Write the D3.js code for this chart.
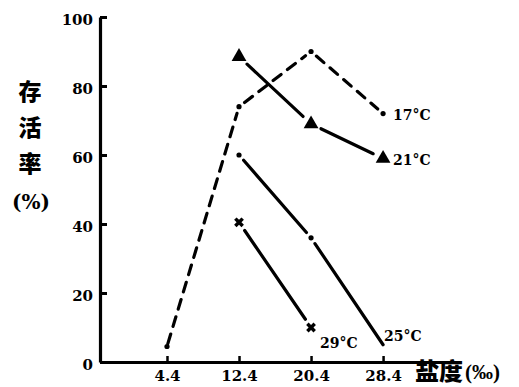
<!DOCTYPE html>
<html>
<head>
<meta charset="utf-8">
<script src="https://cdn.jsdelivr.net/npm/d3@7/dist/d3.min.js"></script>
<style>
  html, body { margin: 0; padding: 0; background: #fff; }
  svg { display: block; }
  .tick text { font-family: "DejaVu Serif", "Liberation Serif", serif; font-weight: bold; font-size: 15px; fill: #000; }
  .lbl { font-family: "DejaVu Serif", "Liberation Serif", serif; font-weight: bold; fill: #000; }
  .lbl2 { font-family: "Liberation Serif", serif; font-weight: bold; fill: #000; }
  .cjk { font-family: "Noto Sans CJK SC", sans-serif; font-weight: 900; fill: #000; }
</style>
</head>
<body>
<svg id="chart" width="519" height="387"></svg>
<script>
// Salinity (‰) at which survival was measured
const salinity = [4.4, 12.4, 20.4, 28.4];
const xTickLabels = ["4.4", "12.4", "20.4", "28.4"];
const yTicks = [0, 20, 40, 60, 80, 100];

// Survival rate (%) per temperature
const surv17 = [4.5, 74, 90, 72];
const surv21 = [null, 88.5, 69, 59];
const surv25 = [null, 60, 36, 5];
const surv29 = [null, 40.5, 10, null];

const series = [
  { name: "17°C", values: surv17, line: "dash", marker: "dot" },
  { name: "21°C", values: surv21, line: "solid", marker: "triangle" },
  { name: "25°C", values: surv25, line: "solid", marker: "dot" },
  { name: "29°C", values: surv29, line: "solid", marker: "cross" }
];

const svg = d3.select("#chart");

const x = d3.scaleLinear().domain([-3.04, 35.5]).range([100, 447]);
const y = d3.scaleLinear().domain([0, 100]).range([362, 17]);

// Y axis: ticks point inward
const yAxis = svg.append("g")
  .attr("transform", `translate(${x.range()[0]},0)`)
  .call(d3.axisLeft(y).tickValues(yTicks).tickSizeInner(-7).tickSizeOuter(0).tickPadding(7).tickFormat(d3.format("d")));
yAxis.select(".domain").attr("stroke", "#000").attr("stroke-width", 3.2);
yAxis.selectAll(".tick line").attr("stroke", "#000").attr("stroke-width", 3);
yAxis.selectAll(".tick text").attr("dy", "0.5em");

// X axis: ticks point upward
const xAxis = svg.append("g")
  .attr("transform", `translate(0,${y(0)})`)
  .call(d3.axisBottom(x).tickValues(salinity).tickSizeInner(-6).tickSizeOuter(0).tickPadding(8)
    .tickFormat((d, i) => xTickLabels[i]));
xAxis.select(".domain").attr("stroke", "#000").attr("stroke-width", 3);
xAxis.selectAll(".tick line").attr("stroke", "#000").attr("stroke-width", 2.5);

// Axis titles
const yTitle = ["存", "活", "率"];
svg.selectAll(".ytitle").data(yTitle).enter().append("text")
  .attr("class", "cjk").attr("x", 30).attr("y", (d, i) => 100 + i * 36)
  .attr("text-anchor", "middle").style("font-size", "23px").text(d => d);
svg.append("text").attr("class", "lbl").attr("x", 31).attr("y", 209)
  .attr("text-anchor", "middle").style("font-size", "20px").text("(%)");
svg.append("text").attr("class", "cjk").attr("x", 415).attr("y", 380)
  .style("font-size", "24px").text("盐度");
svg.append("text").attr("class", "lbl2").attr("x", 465).attr("y", 379)
  .style("font-size", "21px").text("(‰)");

// Points in pixel space
function pts(s) {
  return salinity.map((v, i) => s.values[i] == null ? null : [x(v), y(s.values[i])]).filter(p => p);
}

// Connecting segments, trimmed so they stop short of each marker
const gap = { dot: 7, triangle: 11, cross: 10 };
const g = svg.append("g");
series.forEach(s => {
  const p = pts(s);
  for (let i = 0; i < p.length - 1; i++) {
    const [x0, y0] = p[i], [x1, y1] = p[i + 1];
    const len = Math.hypot(x1 - x0, y1 - y0);
    const ux = (x1 - x0) / len, uy = (y1 - y0) / len;
    let g0 = gap[s.marker], g1 = gap[s.marker];
    if (s.name === "17°C" && i === 0) g0 = 3;
    if (s.name === "25°C" && i === p.length - 2) g1 = 0;
    g.append("line")
      .attr("x1", x0 + ux * g0).attr("y1", y0 + uy * g0)
      .attr("x2", x1 - ux * g1).attr("y2", y1 - uy * g1)
      .attr("stroke", "#000").attr("stroke-width", 3.2)
      .attr("stroke-linecap", "round")
      .attr("stroke-dasharray", s.line === "dash" ? "10,8" : null);
  }
  // Markers
  p.forEach((q, i) => {
    if (s.name === "25°C" && i === p.length - 1) return;
    if (s.marker === "dot") {
      g.append("circle").attr("cx", q[0]).attr("cy", q[1]).attr("r", 2.6).attr("fill", "#000");
    } else if (s.marker === "triangle") {
      g.append("path").attr("transform", `translate(${q[0]},${q[1]})`)
        .attr("d", d3.symbol().type(d3.symbolTriangle).size(95)).attr("fill", "#000");
    } else if (s.marker === "cross") {
      g.append("path").attr("transform", `translate(${q[0]},${q[1]}) rotate(45)`)
        .attr("d", d3.symbol().type(d3.symbolCross).size(60)).attr("fill", "#000");
    }
  });
});

// Temperature labels
const labelPos = {
  "17°C": [surv17[3], 10, 6],
  "21°C": [surv21[3], 10, 7],
  "25°C": [surv25[3], 1, -4],
  "29°C": [surv29[2], 9, 20]
};
series.forEach(s => {
  const [val, dx, dy] = labelPos[s.name];
  const idx = s.values.lastIndexOf(val);
  svg.append("text").attr("class", "lbl")
    .attr("x", x(salinity[idx]) + dx).attr("y", y(val) + dy)
    .style("font-size", "14px")
    .text(s.name);
});
</script>
</body>
</html>
